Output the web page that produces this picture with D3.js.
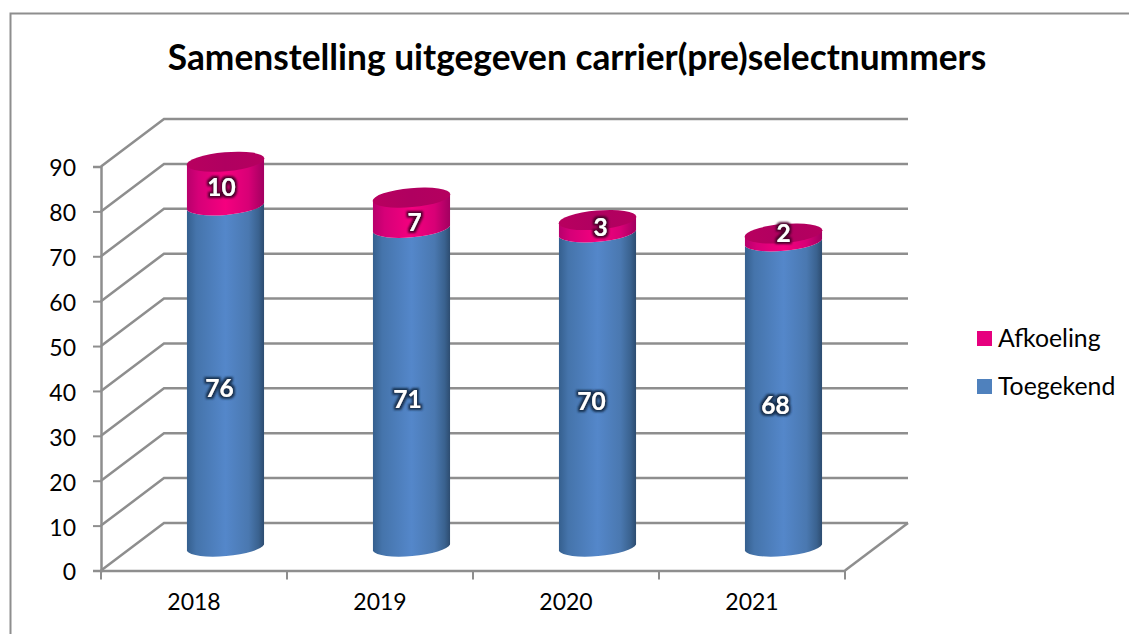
<!DOCTYPE html>
<html><head><meta charset="utf-8">
<script src="https://cdn.jsdelivr.net/npm/d3@7/dist/d3.min.js"></script>
<style>html,body{margin:0;padding:0;background:#fff}svg{display:block}text{font-family:Lato,"Open Sans",sans-serif}</style>
</head><body><svg id="c" width="1129" height="634"></svg>
<script>
const title = "Samenstelling uitgegeven carrier(pre)selectnummers";
const years = ["2018","2019","2020","2021"];
const toegekend = [76,71,70,68];
const afkoeling = [10,7,3,2];
const yTicks = [0,10,20,30,40,50,60,70,80,90];
const legendNames = ["Afkoeling","Toegekend"];
// label placement tweaks (pixels), separate from the values
const lowNudge = [[-6,-11],[-4,-12],[-6,-12],[-8,-12]];
const topNudge = [[-4,-19],[3,-14],[3,-22],[0,-27]];

const W=1129,H=634, DX=63, DY=-47.5, GRID="#8e8e8e";
const svg=d3.select("#c");
const y=d3.scaleLinear().domain([0,90]).range([570.5,166.5]);
const x=d3.scaleBand().domain(years).range([101,845]);
const defs=svg.append("defs");
function grad(id,stops){const g=defs.append("linearGradient").attr("id",id);
  stops.forEach(s=>g.append("stop").attr("offset",s[0]).attr("stop-color",s[1]));}
grad("blue",[[0,"#355f8e"],[.12,"#4574ab"],[.5,"#5487ca"],[.8,"#4a78b0"],[.93,"#3a628f"],[1,"#2d4c70"]]);
grad("pink",[[0,"#b8006c"],[.15,"#d60078"],[.5,"#f5007f"],[.8,"#d80076"],[1,"#a20060"]]);
grad("cap",[[0,"#b8005f"],[.5,"#b00060"],[1,"#b5005f"]]);
function halo(id,col){const f=defs.append("filter").attr("id",id).attr("x","-40%").attr("y","-40%").attr("width","180%").attr("height","180%");
  f.append("feMorphology").attr("in","SourceAlpha").attr("operator","dilate").attr("radius",2).attr("result","d");
  f.append("feGaussianBlur").attr("in","d").attr("stdDeviation",0.8).attr("result","b");
  f.append("feFlood").attr("flood-color",col).attr("result","c");
  f.append("feComposite").attr("in","c").attr("in2","b").attr("operator","in").attr("result","s");
  const m=f.append("feMerge");m.append("feMergeNode").attr("in","s");m.append("feMergeNode").attr("in","SourceGraphic");}
halo("hb","#17304f");halo("hp","#4c002c");

// outer frame: top and left only
svg.append("path").attr("d",`M10.5,${H} V13.5 H${W}`).attr("fill","none").attr("stroke",GRID).attr("stroke-width",2);

svg.append("text").attr("x",577).attr("y",70).attr("text-anchor","middle")
  .attr("font-size",35.3).attr("font-weight",700).attr("fill","#000").text(title);

// walls
const walls=svg.append("g").attr("fill","none").attr("stroke",GRID).attr("stroke-width",2.5);
walls.selectAll(".g").data(yTicks).join("path")
  .attr("d",v=>`M101,${y(v)} L${101+DX},${y(v)+DY} H${845+DX}`);
walls.append("path").attr("d",`M845,${y(0)} L${845+DX},${y(0)+DY}`);

// axes
const axL=svg.append("g").attr("transform","translate(101,0)")
  .call(d3.axisLeft(y).tickValues(yTicks).tickFormat(d3.format("d")).tickSize(8).tickPadding(17));
const axB=svg.append("g").attr("transform",`translate(0,${y(0)})`)
  .call(d3.axisBottom(x).tickSize(0).tickPadding(23));
[axL,axB].forEach(a=>{a.selectAll("path.domain").attr("stroke",GRID).attr("stroke-width",2.5);
  a.selectAll("line").attr("stroke",GRID).attr("stroke-width",2);
  a.selectAll("text").attr("font-size",23).attr("fill","#000").attr("font-family","Lato");});
axL.selectAll("text").attr("dy","0.41em");
axB.selectAll("g.edge").data([...years.map(d=>x(d)),845]).join("line").attr("class","edge")
  .attr("x1",d=>d).attr("x2",d=>d).attr("y1",0).attr("y2",9).attr("stroke",GRID).attr("stroke-width",2);

// cylinders
const RX=39, RY=9.5, ROT=-5, HALF=38.7, tx=HALF*Math.cos(5*Math.PI/180), ty=HALF*Math.sin(5*Math.PI/180);
const cx=d=>x(d)+x.bandwidth()/2+DX/2;
const yMid=v=>y(v)+DY/2+1;
function lower(c,y0,y1){
  const a=(c-tx).toFixed(2), b=(c+tx).toFixed(2);
  return `M${a},${(y1+ty).toFixed(2)} L${a},${(y0+ty).toFixed(2)} A${RX},${RY} ${ROT} 0 0 ${b},${(y0-ty).toFixed(2)} L${b},${(y1-ty).toFixed(2)} A${RX},${RY} ${ROT} 0 1 ${a},${(y1+ty).toFixed(2)} Z`;
}
const bars=svg.append("g");
bars.selectAll(".blue").data(years).join("path").attr("class","blue").attr("fill","url(#blue)")
  .attr("d",(d,i)=>lower(cx(d),yMid(0),yMid(toegekend[i])));
bars.selectAll(".pink").data(years).join("path").attr("class","pink").attr("fill","url(#pink)")
  .attr("d",(d,i)=>lower(cx(d),yMid(toegekend[i]),yMid(toegekend[i]+afkoeling[i])));
bars.selectAll(".cap").data(years).join("ellipse").attr("class","cap").attr("fill","url(#cap)")
  .attr("rx",RX).attr("ry",RY)
  .attr("transform",(d,i)=>`translate(${cx(d)},${yMid(toegekend[i]+afkoeling[i])}) rotate(${ROT})`);

// value labels
const labs=svg.append("g").attr("text-anchor","middle").attr("font-size",24.5).attr("font-weight",700).attr("fill","#fff");
labs.selectAll(".lb").data(years).join("text").attr("class","lb").attr("filter","url(#hb)")
  .attr("x",(d,i)=>cx(d)+lowNudge[i][0]).attr("y",(d,i)=>y(toegekend[i]/2)+lowNudge[i][1]).attr("dy","0.35em")
  .text((d,i)=>toegekend[i]);
labs.selectAll(".lp").data(years).join("text").attr("class","lp").attr("filter","url(#hp)")
  .attr("x",(d,i)=>cx(d)+topNudge[i][0]).attr("y",(d,i)=>y(toegekend[i]+afkoeling[i]/2)+topNudge[i][1]).attr("dy","0.35em")
  .text((d,i)=>afkoeling[i]);

// legend
const color=d3.scaleOrdinal().domain(legendNames).range(["#e6007e","#4f81bd"]);
const ly=d3.scalePoint().domain(legendNames).range([338.5,386.5]);
const lg=svg.append("g").selectAll("g").data(legendNames).join("g").attr("transform",d=>`translate(977,${ly(d)})`);
lg.append("rect").attr("x",0).attr("y",-7.5).attr("width",15).attr("height",15).attr("fill",d=>color(d));
lg.append("text").attr("x",21).attr("y",8).attr("font-size",24.8).attr("fill","#000").text(d=>d);
</script></body></html>
